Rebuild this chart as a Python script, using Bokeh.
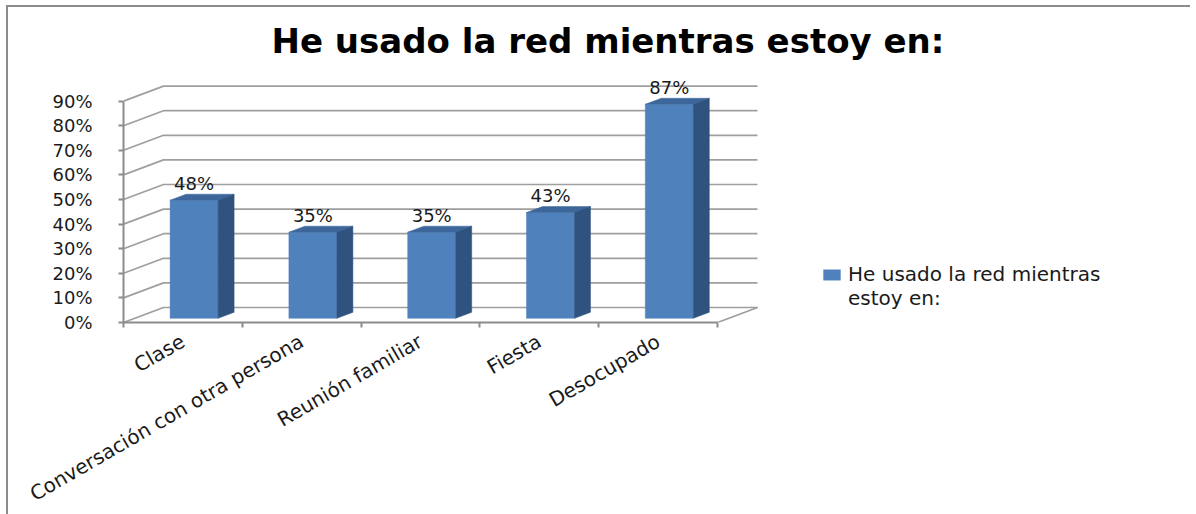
import math
from bokeh.plotting import figure
from bokeh.models import Range1d, FixedTicker, Legend, LegendItem, ColumnDataSource
from bokeh.core.properties import value
from bokeh.embed import file_html
from bokeh.resources import INLINE

# ---------------- data ----------------
title_text = "He usado la red mientras  estoy en:"
legend_lines = ["He usado la red mientras", "estoy en:"]
categories = ["Clase", "Conversación con otra persona", "Reunión familiar", "Fiesta", "Desocupado"]
values = [0.48, 0.35, 0.35, 0.43, 0.87]
value_labels = ["48%", "35%", "35%", "43%", "87%"]
y_ticks = [0.0, 0.1, 0.2, 0.3, 0.4, 0.5, 0.6, 0.7, 0.8, 0.9]
y_tick_labels = ["0%", "10%", "20%", "30%", "40%", "50%", "60%", "70%", "80%", "90%"]

# ---------------- layout / style ----------------
FONT = "DejaVu Sans"
ML, MT, MR, MB = 115, 64, 12, 170
FW, FH = 1057, 251
PX_PER_CAT = 118.8
PX_PER_UNIT = 246.0
x_end = FW / PX_PER_CAT
y_end = FH / PX_PER_UNIT

DX = 40 / PX_PER_CAT      # depth of the 3D box (x, data units)
DY = 15 / PX_PER_UNIT     # depth of the 3D box (y, data units)
F = 0.28                  # depth position of bar front face
G = 0.40                  # bar depth fraction
BW = 48 / PX_PER_CAT      # bar width
n = len(categories)

FRONT = "#4f81bd"
TOP = "#3d679b"
SIDE = "#30527f"
GRID = "#9f9f9f"
AXIS = "#8c8c8c"
TXT = "#1a1a1a"

p = figure(frame_width=FW, frame_height=FH, x_range=Range1d(0, x_end), y_range=Range1d(0, y_end),
           output_backend="svg", toolbar_location=None,
           min_border_left=ML, min_border_right=MR, min_border_top=MT, min_border_bottom=MB)
p.styles = {"margin-left": "8px", "margin-top": "7px", "box-shadow": "-2px -2px 0 0 #8c8c8c"}
p.outline_line_color = None
p.grid.visible = False
p.background_fill_color = "white"
p.border_fill_color = "white"

# title
p.title.text = title_text
p.title.text_font = FONT
p.title.text_font_style = "bold"
p.title.text_font_size = "34px"
p.title.text_color = "black"
p.title.align = "left"
p.title.offset = 148
p.title.standoff = 21

# back wall gridlines + floor
gx, gy = [], []
for t in y_ticks:
    gx.append([0, DX, n + DX])
    gy.append([t, t + DY, t + DY])
gx.append([n, n + DX])
gy.append([0, DY])
p.multi_line(gx, gy, line_color=GRID, line_width=1.7)

# bars
fx, fy, tx, ty, sx, sy = [], [], [], [], [], []
cx, ly = [], []
for i, v in enumerate(values):
    x0 = i + 0.5 - BW / 2 + F * DX
    x1 = x0 + BW
    y0 = F * DY
    y1 = v + F * DY
    ddx, ddy = G * DX, G * DY
    fx.append([x0, x1, x1, x0]); fy.append([y0, y0, y1, y1])
    tx.append([x0, x1, x1 + ddx, x0 + ddx]); ty.append([y1, y1, y1 + ddy, y1 + ddy])
    sx.append([x1, x1 + ddx, x1 + ddx, x1]); sy.append([y0, y0 + ddy, y1 + ddy, y1])
    cx.append((x0 + x1) / 2); ly.append(y1)

front_r = p.patches(fx, fy, fill_color=FRONT, line_color=FRONT, line_width=0.5)
p.patches(tx, ty, fill_color=TOP, line_color=TOP, line_width=0.5)
p.patches(sx, sy, fill_color=SIDE, line_color=SIDE, line_width=0.5)
blank_r = p.patches([[]], [[]], fill_alpha=0, line_alpha=0)

src = ColumnDataSource(dict(x=cx, y=ly, t=value_labels))
p.text(x="x", y="y", text="t", source=src, text_align="center", text_baseline="alphabetic",
       y_offset=-17, text_font_size="18px", text_font=value(FONT), text_color=TXT)

# y axis
ya = p.yaxis[0]
ya.ticker = FixedTicker(ticks=y_ticks, minor_ticks=[])
ya.bounds = (0, 0.9)
ya.major_label_overrides = {t: l for t, l in zip(y_ticks, y_tick_labels)}
ya.major_tick_out = 5
ya.major_tick_in = 0
ya.minor_tick_out = 0
ya.minor_tick_in = 0
ya.major_label_standoff = 26
ya.axis_line_color = AXIS
ya.axis_line_width = 2
ya.major_tick_line_color = AXIS
ya.major_tick_line_width = 2
ya.major_label_text_font = FONT
ya.major_label_text_font_size = "18px"
ya.major_label_text_color = TXT

# x axis
xa = p.xaxis[0]
centers = [i + 0.5 for i in range(n)]
xa.ticker = FixedTicker(ticks=centers, minor_ticks=list(range(n + 1)))
xa.bounds = (0, n)
xa.major_label_overrides = {c: l for c, l in zip(centers, categories)}
xa.major_label_orientation = math.radians(30)
xa.major_tick_out = 0
xa.major_tick_in = 0
xa.minor_tick_out = 5
xa.minor_tick_in = 0
xa.minor_tick_line_color = AXIS
xa.minor_tick_line_width = 2
xa.major_label_standoff = 12
xa.axis_line_color = AXIS
xa.axis_line_width = 2
xa.major_label_text_font = FONT
xa.major_label_text_font_size = "20px"
xa.major_label_text_color = TXT

# legend
legend = Legend(items=[LegendItem(label=legend_lines[0], renderers=[front_r]),
                       LegendItem(label=legend_lines[1], renderers=[blank_r])],
                location=(698, 12), padding=0, margin=0, spacing=0, border_line_color=None,
                background_fill_alpha=0, glyph_width=21, glyph_height=13,
                label_text_font=FONT, label_text_font_size="20px", label_text_color=TXT,
                label_standoff=6, label_height=20)
p.add_layout(legend)

open("out.html", "w").write(file_html(p, INLINE))
